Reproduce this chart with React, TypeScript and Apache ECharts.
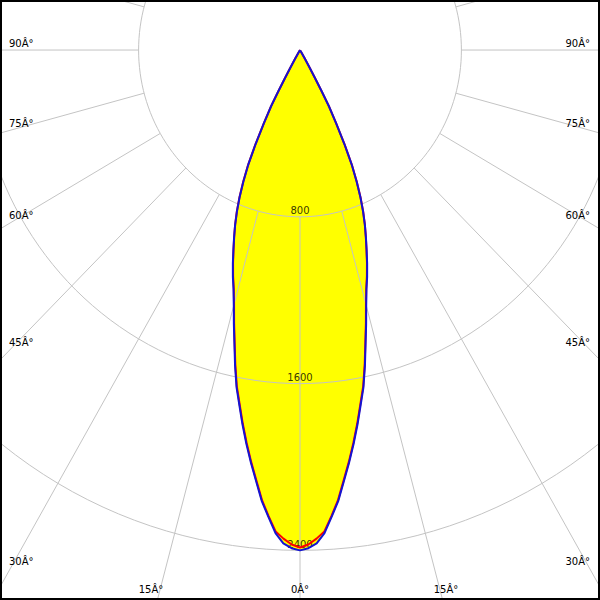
import React, { useEffect, useRef } from 'react';
import * as echarts from 'echarts';

// Polar angles (degrees from nadir) and luminous intensities (cd)
const angles = [0, 1, 2, 3, 4, 5, 6, 7, 8, 9, 10, 11, 12, 13, 14, 15, 16, 17, 18, 19, 20, 21, 22, 23, 24, 25, 26, 27, 28, 28.5, 29, 29.5, 30, 31, 32, 35, 40, 50, 60, 70, 80, 90];
const blueIntensity = [2400, 2390, 2368, 2320, 2245, 2172, 2080, 1995, 1908, 1820, 1730, 1648, 1548, 1445, 1355, 1268, 1195, 1138, 1077, 1014, 955, 897, 834, 766, 690, 608, 503, 394, 304, 225, 153, 100, 50, 15, 5, 2, 1, 0, 0, 0, 0, 0];
const redIntensity = [2386, 2372, 2345, 2312, 2240, 2166, 2074, 1989, 1902, 1814, 1724, 1642, 1542, 1440, 1350, 1263, 1191, 1134, 1074, 1012, 954, 897, 836, 768, 692, 610, 505, 396, 305, 226, 153, 100, 50, 15, 5, 2, 1, 0, 0, 0, 0, 0];

const ringValues = [800, 1600, 2400];
const radialAngles = [-180, -165, -150, -135, -120, -105, -90, -75, -60, -45, -30, -15, 0, 15, 30, 45, 60, 75, 90, 105, 120, 135, 150, 165];

const sideLabels = ['90Â°', '75Â°', '60Â°', '45Â°', '30Â°'];
const bottomLabels = ['15Â°', '0Â°', '15Â°'];

const X_HALF = 1487;
const Y_MAX = 240;
const Y_MIN = -2638;

function toXY(thetaDeg: number, I: number): [number, number] {
  const r = (thetaDeg * Math.PI) / 180;
  return [I * Math.sin(r), -I * Math.cos(r)];
}

function curve(intens: number[]): [number, number][] {
  const pts: [number, number][] = [];
  for (let i = angles.length - 1; i >= 0; i--) pts.push(toXY(-angles[i], intens[i]));
  for (let i = 1; i < angles.length; i++) pts.push(toXY(angles[i], intens[i]));
  return pts;
}

export default function App() {
  const ref = useRef<HTMLDivElement>(null);
  useEffect(() => {
    if (!ref.current) return;
    const chart = echarts.init(ref.current, undefined, { renderer: 'svg' });
    const bluePts = curve(blueIntensity);
    const redPts = curve(redIntensity);
    const gridColor = '#c4c4c4';
    const font = '10px "DejaVu Sans"';

    const ringSeries = ringValues.map((v) => {
      const pts: [number, number][] = [];
      for (let t = 0; t <= 360; t += 2) pts.push(toXY(t, v));
      return {
        type: 'line', data: pts, showSymbol: false, silent: true, z: 2,
        lineStyle: { color: gridColor, width: 1 }, clip: true,
      };
    });
    const radialSeries = radialAngles.map((a) => ({
      type: 'line', data: [toXY(a, 800), toXY(a, 6000)], showSymbol: false, silent: true, z: 2,
      lineStyle: { color: gridColor, width: 1 }, clip: true,
    }));

    const sideY = [43, 123, 215, 342, 561];
    const bottomX = [151, 300, 446];
    const graphics: any[] = [];
    sideLabels.forEach((t, i) => {
      graphics.push({ type: 'text', x: 9, y: sideY[i], z: 50, style: { text: t, font, fill: '#000', textAlign: 'left', textVerticalAlign: 'middle' } });
      graphics.push({ type: 'text', x: 590, y: sideY[i], z: 50, style: { text: t, font, fill: '#000', textAlign: 'right', textVerticalAlign: 'middle' } });
    });
    bottomLabels.forEach((t, i) => {
      graphics.push({ type: 'text', x: bottomX[i], y: 589, z: 50, style: { text: t, font, fill: '#000', textAlign: 'center', textVerticalAlign: 'middle' } });
    });
    graphics.push({ type: 'rect', z: 100, shape: { x: 1, y: 1, width: 598, height: 598 }, style: { fill: 'none', stroke: '#000', lineWidth: 2 } });

    chart.setOption({
      animation: false,
      backgroundColor: '#ffffff',
      grid: { left: 0, right: 0, top: 0, bottom: 0 },
      xAxis: { type: 'value', min: -X_HALF, max: X_HALF, show: false },
      yAxis: { type: 'value', min: Y_MIN, max: Y_MAX, show: false },
      graphic: graphics,
      series: [
        {
          type: 'custom', coordinateSystem: 'cartesian2d', data: [[0, 0]], z: 1, silent: true,
          renderItem: (_p: any, api: any) => ({
            type: 'polygon',
            shape: { points: bluePts.map((p) => api.coord(p)) },
            style: { fill: '#ffff00', stroke: 'none' },
          }),
        },
        ...ringSeries,
        ...radialSeries,
        {
          type: 'scatter', z: 3, silent: true, symbolSize: 0,
          data: ringValues.map((v) => ({ value: [0, -v], name: String(v) })),
          label: { show: true, position: 'top', distance: 1, formatter: '{b}', color: '#000', fontSize: 10, fontFamily: 'DejaVu Sans' },
        },
        {
          type: 'line', data: redPts, showSymbol: false, silent: true, z: 4,
          lineStyle: { color: '#ff0000', width: 2 },
        },
        {
          type: 'line', data: bluePts, showSymbol: false, silent: true, z: 5,
          lineStyle: { color: '#1414d2', width: 2 },
        },
      ],
    } as any);
    return () => chart.dispose();
  }, []);
  return <div ref={ref} style={{ position: 'absolute', left: 0, top: 0, width: 600, height: 600 }} />;
}
